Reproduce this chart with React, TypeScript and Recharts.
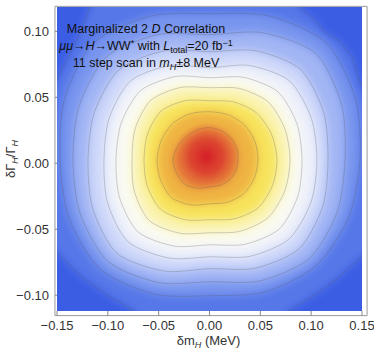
import React from 'react';
import { ScatterChart, Scatter, XAxis, YAxis, CartesianGrid, ReferenceArea, Label } from 'recharts';

// axis setup (data units)
const xDomain = [-0.15, 0.15];
const yDomain = [-0.112, 0.1185];
const xTicks = [-0.15, -0.1, -0.05, 0, 0.05, 0.1, 0.15];
const yTicks = [-0.1, -0.05, 0, 0.05, 0.1];
const frameX = [-0.152, 0.155];
const frameY = [-0.1155, 0.119];

// contour lines, innermost (c1) to outermost (c10); [δm_H, δΓ/Γ]
const c1 = [[.0280,.0027],[.0269,.0111],[.0214,.0188],[.0122,.0244],[.0005,.0270],[-.0117,.0255],[-.0224,.0204],[-.0313,.0129],[-.0359,.0027],[-.0322,-.0078],[-.0238,-.0161],[-.0112,-.0190],[.0005,-.0178],[.0109,-.0166],[.0200,-.0123],[.0260,-.0054]];
const c2 = [[.0477,.0027],[.0446,.0168],[.0346,.0290],[.0188,.0367],[.0005,.0391],[-.0183,.0377],[-.0357,.0306],[-.0472,.0179],[-.0516,.0027],[-.0481,-.0128],[-.0371,-.0262],[-.0180,-.0316],[.0005,-.0307],[.0178,-.0295],[.0339,-.0230],[.0441,-.0112]];
const c3 = [[.0664,.0027],[.0610,.0220],[.0464,.0381],[.0240,.0465],[.0005,.0474],[-.0236,.0475],[-.0475,.0397],[-.0609,.0223],[-.0644,.0027],[-.0613,-.0171],[-.0482,-.0348],[-.0240,-.0428],[.0005,-.0428],[.0246,-.0421],[.0478,-.0338],[.0619,-.0169]];
const c4 = [[.0792,.0027],[.0741,.0262],[.0575,.0467],[.0295,.0567],[.0005,.0573],[-.0289,.0574],[-.0579,.0477],[-.0731,.0262],[-.0762,.0027],[-.0740,-.0211],[-.0593,-.0434],[-.0295,-.0530],[.0005,-.0527],[.0297,-.0516],[.0575,-.0413],[.0741,-.0208]];
const c5 = [[.0910,.0027],[.0860,.0300],[.0673,.0542],[.0340,.0651],[.0005,.0649],[-.0334,.0658],[-.0677,.0552],[-.0868,.0306],[-.0920,.0027],[-.0886,-.0258],[-.0704,-.0520],[-.0347,-.0628],[.0005,-.0618],[.0350,-.0614],[.0687,-.0498],[.0869,-.0249]];
const c6 = [[.1057,.0027],[.1000,.0345],[.0784,.0627],[.0389,.0742],[.0005,.0725],[-.0379,.0742],[-.0774,.0627],[-.0986,.0344],[-.1038,.0027],[-.1004,-.0295],[-.0802,-.0595],[-.0396,-.0719],[.0005,-.0709],[.0399,-.0705],[.0784,-.0573],[.1000,-.0291]];
const c7 = [[.1166,.0027],[.1123,.0384],[.0895,.0713],[.0450,.0854],[.0005,.0846],[-.0440,.0854],[-.0885,.0713],[-.1131,.0390],[-.1195,.0027],[-.1149,-.0342],[-.0913,-.0681],[-.0449,-.0817],[.0005,-.0799],[.0448,-.0796],[.0881,-.0648],[.1114,-.0327]];
const c8 = [[.1333,.0027],[.1300,.0441],[.1048,.0831],[.0523,.0990],[.0005,.0975],[-.0505,.0976],[-.1010,.0810],[-.1281,.0438],[-.1343,.0027],[-.1272,-.0381],[-.0996,-.0745],[-.0496,-.0905],[.0005,-.0898],[.0499,-.0891],[.0979,-.0723],[.1255,-.0372]];
const c9 = [[.1480,.0027],[.1437,.0484],[.1152,.0911],[.0591,.1116],[.0005,.1134],[-.0581,.1116],[-.1142,.0911],[-.1427,.0484],[-.1470,.0027],[-.1381,-.0416],[-.1073,-.0804],[-.0543,-.0992],[.0005,-.1004],[.0544,-.0975],[.1048,-.0777],[.1369,-.0409]];
const c10 = [[.0890,.1240],[.0870,.1187],[.1038,.1088],[.1136,.0989],[.1264,.0936],[.1402,.0807],[.1461,.0656],[.1500,.0580],[.1559,.0481],[.207,.0027],[.1559,-.0671],[.1480,-.0716],[.1264,-.0868],[.1038,-.0997],[.0792,-.1111],[.0733,-.1156],[.0005,-.149],[-.0723,-.1156],[-.0752,-.1111],[-.0929,-.1035],[-.1077,-.0959],[-.1244,-.0868],[-.1372,-.0777],[-.1500,-.0671],[-.1559,-.0625],[-.206,.0027],[-.1559,.0572],[-.1500,.0633],[-.1421,.0754],[-.1352,.0860],[-.1273,.0989],[-.1215,.1103],[-.1175,.1187],[-.1146,.1240],[.0005,.154]];

// location of the density maximum
const peakX = [-0.003];
const peakY = [0.005];

const contourSets = [c10, c9, c8, c7, c6, c5, c4, c3, c2, c1];
const smoothFlags = [false, true, true, true, true, true, true, true, true, true];
const bandColors = ['#5677e8', '#7895ee', '#a2b5f4', '#cdd7f9', '#eef1fa', '#fafaf0', '#faf3b0', '#f7e35c', '#efb443', '#e5803a'];
const backgroundColor = '#3b5de3';

const toPoints = (arr: number[][]) => arr.map(([x, y]) => ({ x, y }));
const peakData = peakX.map((x, i) => ({ x, y: peakY[i] }));

const fmt = (v: number) => v.toFixed(2).replace('-', '\u2212');

const Empty = () => <g />;

type Pt = { x: number; y: number };

// closed Catmull-Rom curve through the pixel points
const smoothClosedPath = (pts: Pt[]) => {
  const n = pts.length;
  let d = `M${pts[0].x},${pts[0].y}`;
  for (let i = 0; i < n; i++) {
    const p0 = pts[(i - 1 + n) % n];
    const p1 = pts[i];
    const p2 = pts[(i + 1) % n];
    const p3 = pts[(i + 2) % n];
    const t = 0.8 / 6;
    const cp1x = p1.x + (p2.x - p0.x) * t;
    const cp1y = p1.y + (p2.y - p0.y) * t;
    const cp2x = p2.x - (p3.x - p1.x) * t;
    const cp2y = p2.y - (p3.y - p1.y) * t;
    d += ` C${cp1x},${cp1y} ${cp2x},${cp2y} ${p2.x},${p2.y}`;
  }
  return d + ' Z';
};

const linearClosedPath = (pts: Pt[]) => pts.map((q, i) => `${i ? 'L' : 'M'}${q.x},${q.y}`).join(' ') + ' Z';

const makeLine = (color: string, smooth: boolean) => (p: any) => {
  const pts = (p.points || []) as Pt[];
  if (!pts.length) return <g />;
  const d = smooth ? smoothClosedPath(pts) : linearClosedPath(pts);
  return (
    <g>
      <path d={d} fill={color} stroke="none" filter="url(#softBlur)" />
      <path d={d} fill="none" stroke="rgba(90,90,90,0.38)" strokeWidth={0.75} strokeLinejoin="round" />
    </g>
  );
};

const PeakShape = (p: any) => <circle cx={p.cx} cy={p.cy} r={34} fill="url(#peakGrad)" />;

const FONT = '"Liberation Sans", Arial, sans-serif';

const XLabel = (props: any) => {
  const vb = props.viewBox || {};
  const cx = vb.x + vb.width / 2 - 1;
  return (
    <text x={cx} y={345} textAnchor="middle" fontFamily={FONT} fontSize={13} fill="#333">
      δm<tspan fontSize={9} fontStyle="italic" dy={3}>H</tspan>
      <tspan dy={-3}> (MeV)</tspan>
    </text>
  );
};

const YLabel = (props: any) => {
  const vb = props.viewBox || {};
  const cy = vb.y + vb.height / 2;
  return (
    <text x={14.5} y={cy} textAnchor="middle" fontFamily={FONT} fontSize={13} fill="#333" transform={`rotate(-90, 14.5, ${cy})`}>
      δΓ<tspan fontSize={9} fontStyle="italic" dy={3}>H</tspan>
      <tspan dy={-3}>/Γ</tspan>
      <tspan fontSize={9} fontStyle="italic" dy={3}>H</tspan>
    </text>
  );
};

const sub: React.CSSProperties = { fontSize: '0.72em', position: 'relative', top: '0.3em', lineHeight: 0 };
const sup: React.CSSProperties = { fontSize: '0.72em', position: 'relative', top: '-0.45em', lineHeight: 0 };

export default function App() {
  return (
    <div style={{ position: 'absolute', left: 0, top: 0, width: 374, height: 350, background: '#fff' }}>
      <svg width={0} height={0} style={{ position: 'absolute' }}>
        <defs>
          <filter id="softBlur" x="-30%" y="-30%" width="160%" height="160%">
            <feGaussianBlur stdDeviation={4.5} />
          </filter>
          <radialGradient id="peakGrad">
            <stop offset="0%" stopColor="#d41d27" stopOpacity={1} />
            <stop offset="50%" stopColor="#db392d" stopOpacity={0.8} />
            <stop offset="100%" stopColor="#e26a36" stopOpacity={0} />
          </radialGradient>
        </defs>
      </svg>
      <ScatterChart width={374} height={350} margin={{ top: 7, right: 12, bottom: 0, left: 0 }}>
        <CartesianGrid fill={backgroundColor} stroke="none" horizontal={false} vertical={false} />
        <XAxis
          type="number"
          dataKey="x"
          domain={xDomain}
          ticks={xTicks}
          allowDataOverflow
          axisLine={false}
          tickLine={{ stroke: '#8a8a8a' }}
          tickSize={5}
          tickMargin={5}
          tickFormatter={fmt}
          tick={{ fontSize: 13, fill: '#333', fontFamily: FONT }}
          height={39}
        >
          <Label content={XLabel} />
        </XAxis>
        <YAxis
          type="number"
          dataKey="y"
          domain={yDomain}
          ticks={yTicks}
          allowDataOverflow
          axisLine={false}
          tickLine={{ stroke: '#8a8a8a' }}
          tickSize={2}
          tickMargin={6}
          tickFormatter={fmt}
          tick={{ fontSize: 13, fill: '#333', fontFamily: FONT }}
          width={57}
        >
          <Label content={YLabel} />
        </YAxis>
        {contourSets.map((c, i) => (
          <Scatter
            key={'c' + i}
            data={toPoints(c)}
            shape={Empty}
            line={makeLine(bandColors[i], smoothFlags[i])}
            lineType="joint"
            legendType="none"
            isAnimationActive={false}
          />
        ))}
        <Scatter data={peakData} shape={PeakShape} legendType="none" isAnimationActive={false} />
        <ReferenceArea
          x1={frameX[0]}
          x2={frameX[1]}
          y1={frameY[0]}
          y2={frameY[1]}
          fill="none"
          fillOpacity={0}
          stroke="#9a9a9a"
          strokeWidth={1}
          ifOverflow="visible"
        />
      </ScatterChart>
      <div
        style={{
          position: 'absolute',
          left: 0,
          top: 21,
          width: 292,
          textAlign: 'center',
          fontFamily: FONT,
          fontSize: 12.5,
          lineHeight: '17px',
          color: '#111',
          pointerEvents: 'none',
        }}
      >
        <div>Marginalized 2 <i>D</i> Correlation</div>
        <div>
          <i>μμ</i>→<i>H</i>→WW<span style={sup}>*</span> with <i>L</i>
          <span style={sub}>total</span>=20 fb<span style={sup}>−1</span>
        </div>
        <div>
          11 step scan in <i>m</i>
          <span style={sub}><i>H</i></span>±8 MeV
        </div>
      </div>
    </div>
  );
}
